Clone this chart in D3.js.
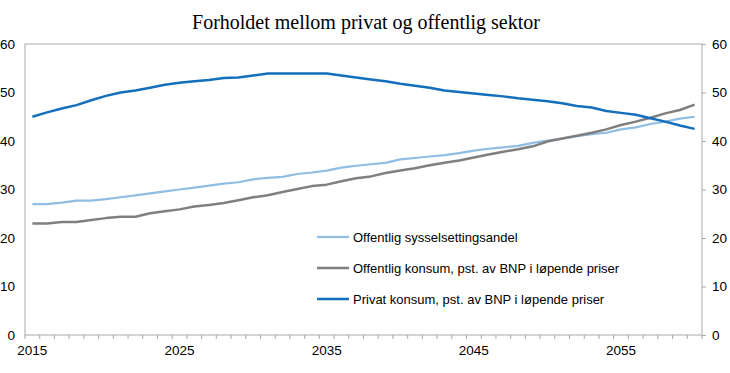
<!DOCTYPE html>
<html>
<head>
<meta charset="utf-8">
<script src="https://cdn.jsdelivr.net/npm/d3@7"></script>
<style>
  body { margin: 0; background: #fff; }
  svg { display: block; }
</style>
</head>
<body>
<div id="chart"></div>
<script>
var width = 730;
var height = 373;
var margin = ({top: 44, right: 28, bottom: 38, left: 25});

var years = d3.range(2015, 2061);
var tickYears = [2015, 2025, 2035, 2045, 2055];
var yTicks = [0, 10, 20, 30, 40, 50, 60];

var sysselsetting = [27.0, 27.0, 27.3, 27.7, 27.7, 28.0, 28.4, 28.8, 29.2, 29.6,
  30.0, 30.4, 30.8, 31.2, 31.5, 32.1, 32.4, 32.6, 33.2, 33.5,
  33.9, 34.5, 34.9, 35.2, 35.5, 36.2, 36.5, 36.8, 37.1, 37.5,
  38.0, 38.4, 38.7, 39.0, 39.6, 40.1, 40.5, 41.0, 41.4, 41.7,
  42.4, 42.8, 43.5, 44.0, 44.6, 45.0];

var offKonsum = [23.0, 23.0, 23.3, 23.3, 23.7, 24.1, 24.4, 24.4, 25.1, 25.5,
  25.9, 26.5, 26.8, 27.2, 27.8, 28.4, 28.8, 29.5, 30.1, 30.7,
  31.0, 31.7, 32.3, 32.7, 33.4, 33.9, 34.4, 35.0, 35.5, 36.0,
  36.6, 37.2, 37.8, 38.3, 38.9, 39.9, 40.5, 41.1, 41.7, 42.4,
  43.3, 44.0, 44.8, 45.7, 46.4, 47.5];

var privKonsum = [45.0, 45.9, 46.7, 47.4, 48.4, 49.3, 50.0, 50.4, 51.0, 51.6,
  52.0, 52.3, 52.6, 53.0, 53.1, 53.5, 53.9, 53.9, 53.9, 53.9,
  53.9, 53.5, 53.1, 52.7, 52.3, 51.8, 51.4, 51.0, 50.4, 50.1,
  49.8, 49.5, 49.2, 48.8, 48.5, 48.2, 47.8, 47.2, 46.9, 46.2,
  45.8, 45.4, 44.7, 44.0, 43.2, 42.5];

var seriesNames = ["Offentlig sysselsettingsandel",
  "Offentlig konsum, pst. av BNP i løpende priser",
  "Privat konsum, pst. av BNP i løpende priser"];
var seriesColors = ["#8fbde4", "#7f7f7f", "#136fbd"];
var seriesWidths = [2.2, 2.5, 2.5];
var series = [sysselsetting, offKonsum, privKonsum];

var x = d3.scaleBand()
  .domain(years)
  .range([margin.left, width - margin.right]);

var y = d3.scaleLinear()
  .domain([0, 60])
  .range([height - margin.bottom, margin.top]);

var axisColor = "#a9a9a9";

var svg = d3.select("#chart").append("svg")
  .attr("width", width)
  .attr("height", height)
  .style("font-family", "'Liberation Sans', Arial, sans-serif");

svg.append("text")
  .attr("x", 366)
  .attr("y", 29)
  .attr("text-anchor", "middle")
  .style("font-family", "'Liberation Serif', 'Times New Roman', serif")
  .style("font-size", "20px")
  .attr("fill", "#000")
  .text("Forholdet mellom privat og offentlig sektor");

// frame
svg.append("rect")
  .attr("x", margin.left)
  .attr("y", margin.top)
  .attr("width", width - margin.right - margin.left)
  .attr("height", height - margin.bottom - margin.top)
  .attr("fill", "none")
  .attr("stroke", axisColor);

// bottom axis: ticks between categories
var xAxis = g => g
  .attr("transform", `translate(0,${height - margin.bottom})`)
  .call(g => g.selectAll("line.tk")
    .data(years.concat([2061]))
    .join("line")
      .attr("class", "tk")
      .attr("x1", d => d === 2061 ? x.range()[1] : x(d))
      .attr("x2", d => d === 2061 ? x.range()[1] : x(d))
      .attr("y1", 0)
      .attr("y2", 4)
      .attr("stroke", axisColor))
  .call(g => g.selectAll("text")
    .data(tickYears)
    .join("text")
      .attr("x", d => x(d) + x.bandwidth() / 2)
      .attr("y", 20)
      .attr("text-anchor", "middle")
      .style("font-size", "13.5px")
      .attr("fill", "#000")
      .text(d => d));

svg.append("g").call(xAxis);

var yAxisLeft = g => g
  .attr("transform", `translate(${margin.left},0)`)
  .call(d3.axisLeft(y).tickValues(yTicks).tickSize(0).tickPadding(10))
  .call(g => g.select(".domain").remove())
  .call(g => g.selectAll("text").style("font-size", "13.5px").attr("fill", "#000"));

var yAxisRight = g => g
  .attr("transform", `translate(${width - margin.right},0)`)
  .call(d3.axisRight(y).tickValues(yTicks).tickSize(4).tickPadding(6))
  .call(g => g.select(".domain").remove())
  .call(g => g.selectAll("line").attr("stroke", axisColor))
  .call(g => g.selectAll("text").style("font-size", "13.5px").attr("fill", "#000"));

svg.append("g").call(yAxisLeft);
svg.append("g").call(yAxisRight);

var line = d3.line()
  .x((d, i) => x(years[i]) + x.bandwidth() / 2)
  .y(d => y(d));

svg.append("g")
  .selectAll("path")
  .data(series)
  .join("path")
    .attr("fill", "none")
    .attr("stroke", (d, i) => seriesColors[i])
    .attr("stroke-width", (d, i) => seriesWidths[i])
    .attr("stroke-linejoin", "round")
    .attr("d", line);

// legend
var legend = svg.append("g")
  .attr("transform", "translate(317,237)");

var item = legend.selectAll("g")
  .data(seriesNames)
  .join("g")
    .attr("transform", (d, i) => `translate(0,${i * 31})`);

item.append("line")
  .attr("x1", 0)
  .attr("x2", 32)
  .attr("stroke", (d, i) => seriesColors[i])
  .attr("stroke-width", (d, i) => seriesWidths[i]);

item.append("text")
  .attr("x", 36)
  .attr("dy", "0.35em")
  .style("font-size", "13px")
  .attr("fill", "#000")
  .text(d => d);
</script>
</body>
</html>
